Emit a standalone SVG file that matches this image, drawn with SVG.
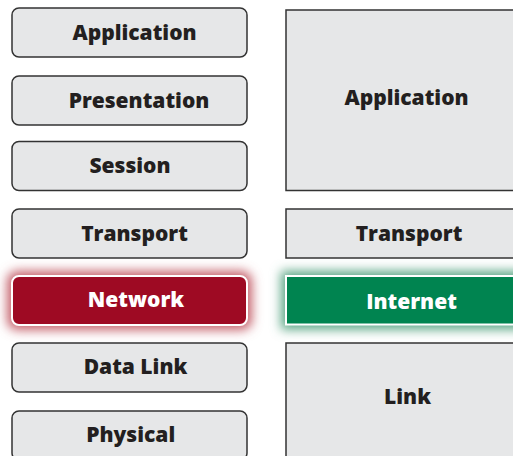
<svg xmlns="http://www.w3.org/2000/svg" width="513" height="456" viewBox="0 0 513 456">
<defs>
<style>
.box{fill:#e6e7e8;stroke:#333333;stroke-width:1.5}
.lbl{font-family:"Open Sans","Liberation Sans",sans-serif;font-weight:800;font-size:21px;fill:#231f20;text-anchor:middle}
.wlbl{font-family:"Open Sans","Liberation Sans",sans-serif;font-weight:800;font-size:21px;fill:#ffffff;text-anchor:middle}
</style>
<filter id="glow" x="-20%" y="-80%" width="140%" height="260%">
<feGaussianBlur stdDeviation="5.5"/>
</filter>
</defs>
<rect width="513" height="456" fill="#ffffff"/>
<g id="connectors"></g>
<g id="osi-application"><rect class="box" x="12" y="8" width="235" height="49" rx="7"/><text class="lbl" x="134.5" y="39.5">Application</text></g>
<g id="osi-presentation"><rect class="box" x="12" y="76" width="235" height="49" rx="7"/><text class="lbl" x="139" y="107.5">Presentation</text></g>
<g id="osi-session"><rect class="box" x="12" y="141.5" width="235" height="49" rx="7"/><text class="lbl" x="130" y="172.7">Session</text></g>
<g id="osi-transport"><rect class="box" x="12" y="209" width="235" height="49" rx="7"/><text class="lbl" x="134.5" y="240.7">Transport</text></g>
<g id="osi-network">
<rect x="7" y="271" width="245" height="59" rx="10" fill="#c4606a" filter="url(#glow)"/>
<rect x="12" y="276" width="235" height="49" rx="7" fill="#9e0a23" stroke="#ffffff" stroke-width="2"/>
<text class="wlbl" x="136" y="306.7">Network</text></g>
<g id="osi-datalink"><rect class="box" x="12" y="343" width="235" height="49" rx="7"/><text class="lbl" x="135.5" y="374">Data Link</text></g>
<g id="osi-physical"><rect class="box" x="12" y="411" width="235" height="49" rx="7"/><text class="lbl" x="130.7" y="441.7">Physical</text></g>
<g id="tcp-application"><rect class="box" x="286" y="10" width="240" height="180.5"/><text class="lbl" x="406.5" y="105">Application</text></g>
<g id="tcp-transport"><rect class="box" x="286" y="209" width="240" height="49"/><text class="lbl" x="409" y="240.7">Transport</text></g>
<g id="tcp-internet">
<rect x="281" y="271" width="250" height="58.5" fill="#5aa584" filter="url(#glow)"/>
<rect x="286" y="276" width="240" height="48.5" fill="#008450" stroke="#ffffff" stroke-width="2"/>
<text class="wlbl" x="411.5" y="309.3">Internet</text></g>
<g id="tcp-link"><rect class="box" x="286" y="343" width="240" height="130"/><text class="lbl" x="407.5" y="404">Link</text></g>
</svg>
